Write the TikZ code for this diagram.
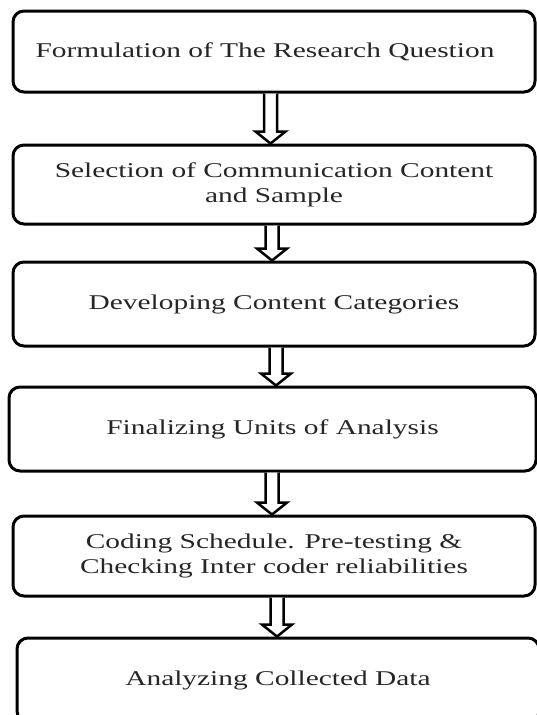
\documentclass[tikz,border=0pt]{standalone}
\usepackage{fontspec}
\setmainfont{Liberation Serif}[FakeStretch=1.4]
\usetikzlibrary{calc}
\tikzset{
  stepbox/.style={draw=black, line width=3pt, rounded corners=11pt, rectangle,
    inner sep=0pt, align=center, text=black!85,
    font=\fontsize{21}{25}\selectfont},
  arrowline/.style={draw=black, line width=2.5pt, fill=white, line join=miter}
}
\newcommand{\hollowarrow}[3]{%
  \draw[arrowline] let \p1=(#1.south), \p2=(#2.north) in
    (#3pt-6.5pt,\y1) -- (#3pt-6.5pt,\y2+12pt) -- (#3pt-15pt,\y2+12pt) --
    (#3pt,\y2) -- (#3pt+15pt,\y2+12pt) -- (#3pt+6.5pt,\y2+12pt) --
    (#3pt+6.5pt,\y1);
}
\begin{document}
\begin{tikzpicture}[x=1pt,y=-1pt]
\useasboundingbox (0,0) rectangle (537,715);
\clip (0,0) rectangle (537,715);
\fill[white] (0,0) rectangle (537,715);
\node[stepbox, minimum width=522pt, minimum height=81pt] (b1) at (274,51.5)
  {\raisebox{-6pt}{Formulation of The Research Question}\hspace{18pt}};
\node[stepbox, minimum width=522pt, minimum height=79pt] (b2) at (274,184.5)
  {Selection of Communication Content\\and Sample};
\node[stepbox, minimum width=522pt, minimum height=84pt] (b3) at (274,304)
  {\raisebox{-3pt}{Developing Content Categories}};
\node[stepbox, minimum width=527pt, minimum height=84pt] (b4) at (272.5,429)
  {Finalizing Units of Analysis};
\node[stepbox, minimum width=522pt, minimum height=80pt] (b5) at (274,556)
  {Coding Schedule. Pre-testing \&\\Checking Inter coder reliabilities};
\node[stepbox, minimum width=522pt, minimum height=84pt] (b6) at (278,680)
  {Analyzing Collected Data};
\hollowarrow{b1}{b2}{270.5}
\hollowarrow{b2}{b3}{272}
\hollowarrow{b3}{b4}{276}
\hollowarrow{b4}{b5}{272}
\hollowarrow{b5}{b6}{277}
\end{tikzpicture}
\end{document}
